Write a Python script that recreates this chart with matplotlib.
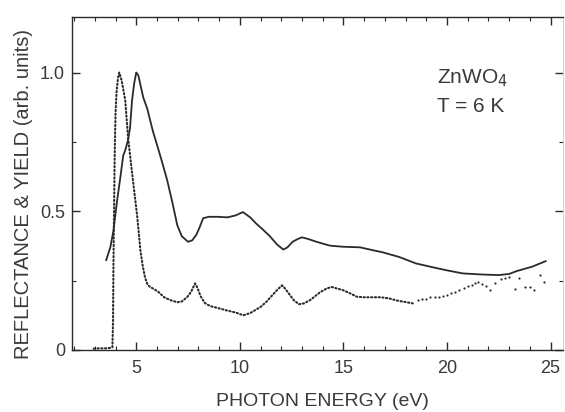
import matplotlib
matplotlib.use("Agg")
import matplotlib.pyplot as plt
from matplotlib.ticker import MultipleLocator

plt.rcParams['font.family'] = ['Liberation Sans', 'DejaVu Sans']

# reflectance (solid line)
refl_e = [3.55, 3.75, 3.9, 4.08, 4.23, 4.37, 4.47, 4.6, 4.7, 4.8, 4.9, 5.0, 5.1,
          5.34, 5.53, 5.8, 6.2, 6.5, 6.75, 6.98, 7.2, 7.5, 7.7, 7.9, 8.05, 8.23,
          8.5, 8.9, 9.4, 9.8, 10.15, 10.5, 10.8, 11.1, 11.45, 11.8, 12.1, 12.3,
          12.55, 12.8, 13.0, 13.3, 13.7, 14.35, 15.0, 15.8, 16.4, 16.9, 17.7,
          18.5, 19.5, 20.0, 20.76, 21.7, 22.5, 23.0, 23.35, 24.1, 24.76]
refl_y = [0.324, 0.37, 0.43, 0.54, 0.62, 0.70, 0.72, 0.755, 0.8, 0.9, 0.96, 1.0, 0.99,
          0.91, 0.87, 0.79, 0.69, 0.61, 0.53, 0.45, 0.41, 0.39, 0.395, 0.415, 0.44, 0.475,
          0.48, 0.48, 0.478, 0.485, 0.497, 0.478, 0.455, 0.435, 0.41, 0.38, 0.362, 0.37,
          0.39, 0.40, 0.406, 0.40, 0.39, 0.376, 0.372, 0.37, 0.36, 0.352, 0.335,
          0.312, 0.295, 0.287, 0.276, 0.272, 0.27, 0.274, 0.284, 0.3, 0.32]

# photoelectron yield (dense dotted part)
yield_e = [2.95, 3.2, 3.5, 3.8, 3.85, 3.88, 3.9, 3.93, 3.96, 4.0, 4.05, 4.12, 4.18,
           4.3, 4.47, 4.6, 4.75, 4.86, 5.05, 5.2, 5.32, 5.43, 5.55, 5.67, 5.85, 6.06,
           6.35, 6.64, 6.98, 7.2, 7.45, 7.65, 7.84, 7.95, 8.1, 8.3, 8.57, 8.9, 9.4,
           9.8, 10.17, 10.5, 11.0, 11.3, 11.6, 11.85, 12.04, 12.2, 12.4, 12.6, 12.85,
           13.1, 13.4, 13.87, 14.2, 14.44, 15.0, 15.3, 15.65, 16.0, 16.4, 16.8, 17.2,
           17.6, 17.9, 18.35]
yield_y = [0.005, 0.006, 0.006, 0.008, 0.01, 0.1, 0.3, 0.5, 0.7, 0.85, 0.93, 0.98, 1.0,
           0.97, 0.9, 0.77, 0.67, 0.6, 0.48, 0.36, 0.3, 0.26, 0.235, 0.227, 0.22, 0.21,
           0.19, 0.18, 0.172, 0.175, 0.19, 0.21, 0.24, 0.225, 0.195, 0.17, 0.158, 0.152, 0.142,
           0.135, 0.125, 0.133, 0.155, 0.175, 0.2, 0.22, 0.233, 0.22, 0.2, 0.18, 0.165,
           0.168, 0.18, 0.208, 0.222, 0.227, 0.215, 0.205, 0.192, 0.19, 0.19, 0.19, 0.186,
           0.178, 0.174, 0.168]

# photoelectron yield (sparse points at high energy)
sparse_e = [18.6, 18.8, 19.0, 19.2, 19.4, 19.6, 19.8, 20.0, 20.2, 20.4, 20.6, 20.8,
            21.0, 21.2, 21.35, 21.5, 21.7, 21.9, 22.06, 22.3, 22.6, 22.8, 23.0, 23.27,
            23.5, 23.75, 24.0, 24.2, 24.5, 24.7]
sparse_y = [0.18, 0.183, 0.185, 0.19, 0.19, 0.192, 0.196, 0.2, 0.205, 0.21, 0.215, 0.225,
            0.23, 0.235, 0.24, 0.245, 0.238, 0.232, 0.216, 0.24, 0.255, 0.26, 0.263, 0.22,
            0.26, 0.226, 0.226, 0.216, 0.27, 0.244]

W, H = 565, 412
fig = plt.figure(figsize=(W / 100, H / 100), dpi=100)
ax = fig.add_axes([72 / W, 1 - 350 / H, (563 - 72) / W, (350 - 17) / H])

ink = '#2a2a2a'
txt = '#3a3a3a'
ax.plot(refl_e, refl_y, color=ink, lw=1.3)
ax.plot(yield_e, yield_y, color=ink, lw=1.5, ls=(0, (0.6, 1.2)), dash_capstyle='round')
ax.scatter(sparse_e, sparse_y, s=2.5, color=ink, linewidths=0)

ax.set_xlim(1.9, 25.6)
ax.set_ylim(0, 1.2)
ax.xaxis.set_major_locator(MultipleLocator(5))
ax.xaxis.set_minor_locator(MultipleLocator(1))
ax.yaxis.set_minor_locator(MultipleLocator(0.25))
ax.set_yticks([0, 0.5, 1.0])
ax.set_yticklabels(['0', '0.5', '1.0'])

ax.tick_params(which='both', direction='in', top=True, right=True, colors=ink,
               labelsize=13, labelcolor=txt)
ax.tick_params(which='major', length=6, width=1, pad=5)
ax.tick_params(axis='x', which='major', pad=7)
ax.tick_params(which='minor', length=3, width=0.8)
for side in ['left', 'bottom', 'top']:
    ax.spines[side].set_color(ink)
    ax.spines[side].set_linewidth(1.0)
ax.spines['right'].set_color('#cccccc')
ax.spines['right'].set_linewidth(0.6)

ax.set_xlabel('PHOTON ENERGY (eV)', fontsize=14, color=txt)
ax.set_ylabel('REFLECTANCE & YIELD (arb. units)', fontsize=14.5, color=txt)
ax.xaxis.set_label_coords((322 - 72) / (563 - 72), -(402 - 350) / (350 - 17))
ax.yaxis.set_label_coords(-(72 - 24) / (563 - 72), (350 - 194) / (350 - 17))
ax.xaxis.label.set_va('center')
ax.yaxis.label.set_va('center')

fig.text(437 / W, 1 - 78 / H, 'ZnWO$_4$', fontsize=15, color=txt, va='center')
fig.text(437 / W, 1 - 107 / H, 'T = 6 K', fontsize=15, color=txt, va='center')

fig.savefig('out.png', dpi=100)
